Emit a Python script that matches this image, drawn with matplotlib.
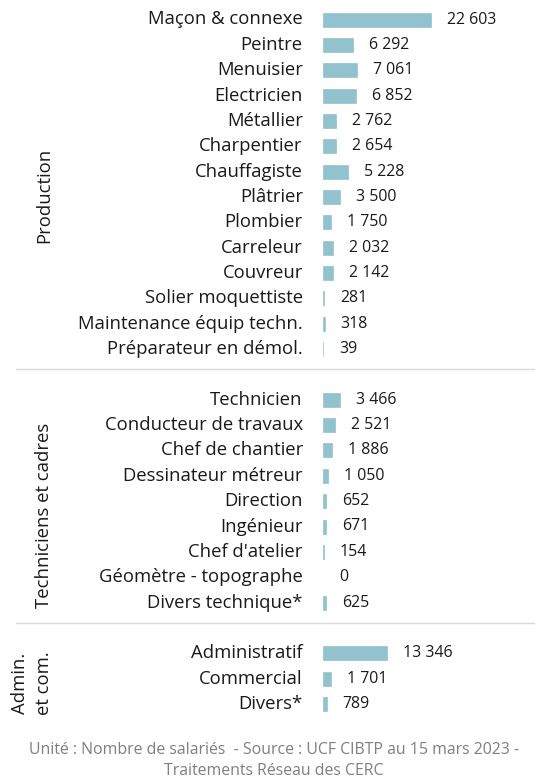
import matplotlib
matplotlib.use("Agg")
import matplotlib.pyplot as plt

plt.rcParams['font.family'] = ['Open Sans', 'DejaVu Sans']

production = ["Maçon & connexe", "Peintre", "Menuisier", "Electricien", "Métallier",
              "Charpentier", "Chauffagiste", "Plâtrier", "Plombier", "Carreleur",
              "Couvreur", "Solier moquettiste", "Maintenance équip techn.",
              "Préparateur en démol."]
production_vals = [22603, 6292, 7061, 6852, 2762, 2654, 5228, 3500, 1750, 2032,
                   2142, 281, 318, 39]

techniciens = ["Technicien", "Conducteur de travaux", "Chef de chantier",
               "Dessinateur métreur", "Direction", "Ingénieur", "Chef d'atelier",
               "Géomètre - topographe", "Divers technique*"]
techniciens_vals = [3466, 2521, 1886, 1050, 652, 671, 154, 0, 625]

admin = ["Administratif", "Commercial", "Divers*"]
admin_vals = [13346, 1701, 789]

groups = [("Production", production, production_vals),
          ("Techniciens et cadres", techniciens, techniciens_vals),
          ("Admin.\net com.", admin, admin_vals)]

W, H = 535, 782
fig = plt.figure(figsize=(W / 100, H / 100), dpi=100)
x0 = 323
ax = fig.add_axes([x0 / W, 0, 1 - x0 / W, 1])
ax.set_xlim(0, (W - x0) * 209.3)
ax.set_ylim(H, 0)
ax.axis("off")

bar_color = "#93c2cf"
text_color = "#1a1a1a"
pitch = 25.35
top = 19.5
# group titles sit a little below the middle of their rows
title_shift = [11, 14, 5]

def fmt(v):
    return f"{v:,}".replace(",", " ")

idx = 0
for g, (name, cats, vals) in enumerate(groups):
    ys = [top + pitch * (idx + i) for i in range(len(cats))]
    bars = ax.barh(ys, vals, height=14, color=bar_color)
    for b, v in zip(bars, vals):
        if v > 0:
            b.set_edgecolor(bar_color)
            b.set_linewidth(0.5)
    for y, c, v in zip(ys, cats, vals):
        ax.annotate(c, (0, y), xytext=(-14.5, 0), textcoords="offset points",
                    ha="right", va="center", fontsize=13.3, color=text_color)
        ax.annotate(fmt(v), (v, y), xytext=(11.5, 0), textcoords="offset points",
                    ha="left", va="center", fontsize=11.4, color=text_color)
    mid = (ys[0] + ys[-1]) / 2 + title_shift[g]
    two_lines = "\n" in name
    fig.text((32 if two_lines else 44) / W, 1 - mid / H, name, rotation=90,
             ha="center", va="center", fontsize=13.3, color=text_color,
             linespacing=1.4 if two_lines else 1.2)
    idx += len(cats)
    if g < len(groups) - 1:
        ysep = top + pitch * (idx - 0.2)
        fig.add_artist(plt.Line2D([16 / W, 1], [1 - ysep / H] * 2,
                                  color="#d9d9d9", lw=1))
    idx += 1

fig.text(274 / W, 1 - 750 / H, "Unité : Nombre de salariés  - Source : UCF CIBTP au 15 mars 2023 -",
         ha="center", va="center", fontsize=11.4, color="#7f7f7f")
fig.text(274 / W, 1 - 771 / H, "Traitements Réseau des CERC",
         ha="center", va="center", fontsize=11.4, color="#7f7f7f")

fig.savefig("out.png", dpi=100)
